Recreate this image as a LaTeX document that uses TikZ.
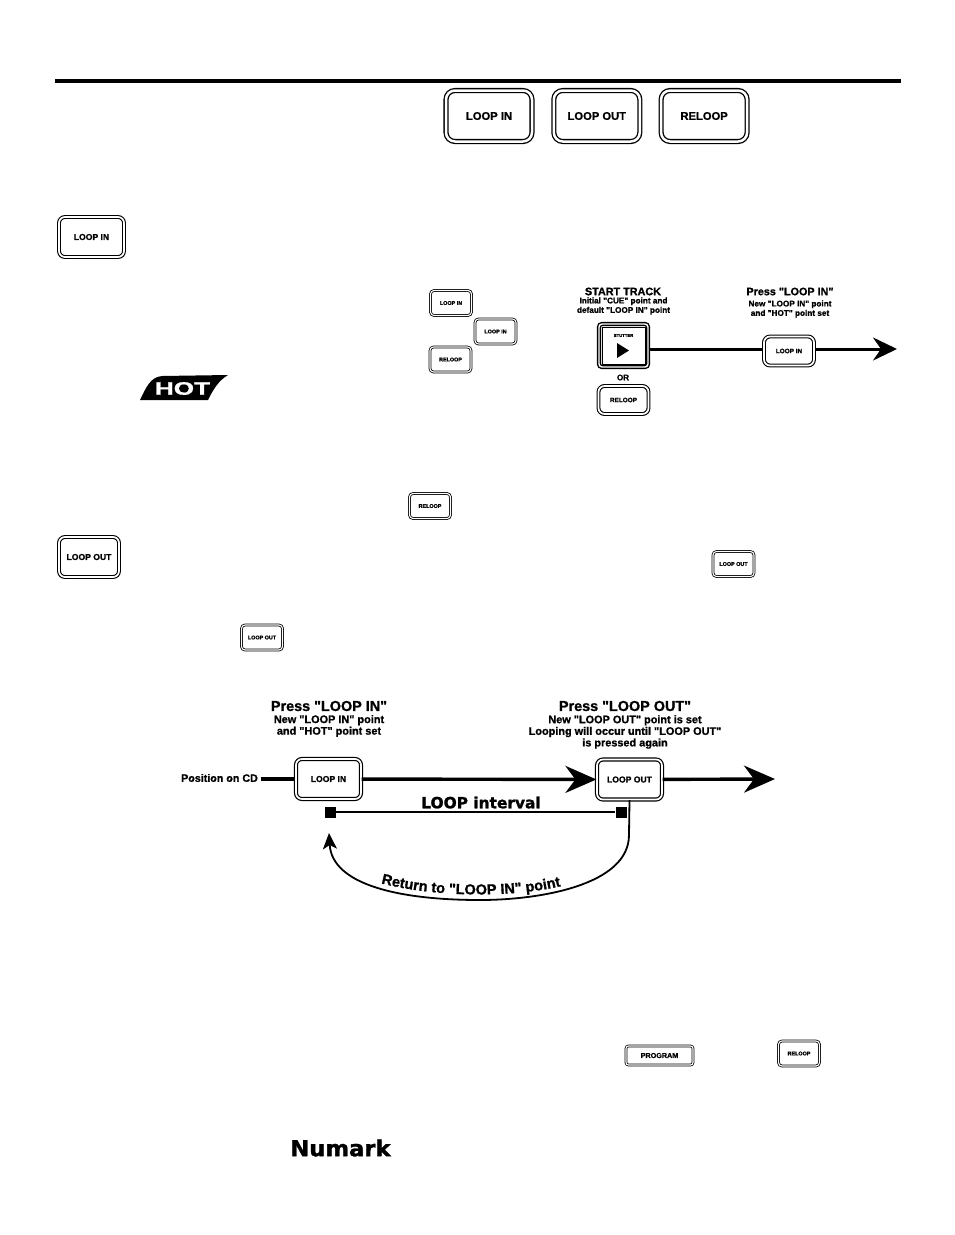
\documentclass[tikz,border=0pt]{standalone}
\usepackage{fontspec}
\setmainfont{Liberation Sans}[Ligatures=TeXOff, BoldFeatures={FakeBold=1.1}]
\newfontfamily\widefont{DejaVu Sans}[Ligatures=TeXOff, BoldFeatures={FakeBold=1.5}]
\usetikzlibrary{arrows.meta, decorations.text, positioning}
\newcommand{\retfont}{\bfseries\fontsize{14.5}{16}\selectfont}
\tikzstyle{btn}=[draw, double, font=\bfseries, inner sep=0pt]
\tikzstyle{bigbtn}=[btn, line width=1.3pt, double distance=2.5pt, rounded corners=9pt, minimum width=86pt, minimum height=51pt, font=\bfseries\fontsize{11.2}{13}\selectfont]
\tikzstyle{midbtn}=[btn, line width=1.1pt, double distance=1.7pt, rounded corners=6pt, minimum width=65pt, minimum height=40pt, font=\bfseries\fontsize{8.6}{10}\selectfont]
\tikzstyle{tinybtn}=[btn, line width=.8pt, double distance=1.1pt, rounded corners=3.5pt, minimum width=41pt, minimum height=25pt, font=\bfseries\fontsize{5.4}{6}\selectfont]
\tikzstyle{head}=[font=\bfseries\fontsize{10.8}{12}\selectfont, inner sep=0pt]
\tikzstyle{subhead}=[align=center, font=\bfseries\fontsize{8.2}{9.4}\selectfont, inner sep=0pt]
\tikzstyle{bighead}=[font=\bfseries\fontsize{14.4}{16}\selectfont, inner sep=0pt]
\tikzstyle{bigsub}=[align=center, font=\bfseries\fontsize{10.9}{11.6}\selectfont, inner sep=0pt]
\tikzstyle{endmark}=[fill=black, minimum size=11pt, inner sep=0pt]
\tikzstyle{track}=[line width=3pt, -{Stealth[length=24pt, width=23pt, inset=8pt]}]
\tikzstyle{bigtrack}=[line width=3.4pt, -{Stealth[length=31pt, width=27pt, inset=10pt]}]

\begin{document}
\begin{tikzpicture}[x=1pt, y=-1pt]
  \useasboundingbox (0,0) rectangle (954,1235);
  \coordinate (ruleL) at (55,81);
  \coordinate (ruleR) at (901,81);
  \draw[line width=4pt] (ruleL) -- (ruleR);

  % top row
  \node[bigbtn] (topin) at (489,116) {LOOP IN};
  \node[bigbtn] (topout) [right=20.5pt of topin] {LOOP OUT};
  \node[bigbtn] (toprel) [right=20pt of topout] {RELOOP};

  % buttons in the text
  \node[midbtn] (sidein) at (91.5,237) {LOOP IN};
  \node[tinybtn] (txtina) at (451,303) {LOOP IN};
  \node[tinybtn] (txtinb) at (495.5,331.5) {LOOP IN};
  \node[tinybtn] (txtrel) at (450.5,359.5) {RELOOP};
  \node[tinybtn] (txtrelb) at (430,506) {RELOOP};
  \node[midbtn, minimum width=60pt] (sideout) at (89,557) {LOOP OUT};
  \node[tinybtn] (txtouta) at (733.5,564) {LOOP OUT};
  \node[tinybtn] (txtoutb) at (262,637.5) {LOOP OUT};
  \node[tinybtn, rounded corners=2.5pt, minimum width=67pt, minimum height=19pt, font=\bfseries\fontsize{7.2}{8}\selectfont] (prog) at (659.5,1055.5) {PROGRAM};
  \node[tinybtn] (botrel) at (799,1053.5) {RELOOP};

  % badge and logo
  \fill (140,400) .. controls (146,388) and (150,377) .. (162,376) -- (228,375)
    .. controls (218,381) and (213,390) .. (208,400) -- cycle;
  \node[inner sep=0pt, text=white, font=\bfseries\fontsize{18}{19}\selectfont, xscale=1.45] (hot) at (182.5,388.5) {HOT};
  \node[inner sep=0pt, font=\widefont\bfseries\fontsize{22}{23}\selectfont, xscale=1.03] (numark) at (340.5,1148) {Numark};

  % start track
  \node[head] (starthd) at (623,291.5) {START TRACK};
  \node[subhead] (startsub) at (623.5,306) {Initial "CUE" point and\\default "LOOP IN" point};
  \node[midbtn, rounded corners=3pt, line width=1.4pt, double distance=1.4pt, minimum width=49pt, minimum height=43pt] (stutter) at (623.5,345.5) {};
  \node[draw, line width=.8pt, minimum width=43pt, minimum height=37pt, inner sep=0pt] (stutin) at (stutter) {};
  \node[inner sep=0pt, font=\bfseries\fontsize{4.2}{5}\selectfont] (stuttxt) at (623.5,335.5) {STUTTER};
  \fill (617,343) -- (629,350.5) -- (617,358) -- cycle;
  \node[inner sep=0pt, font=\bfseries\fontsize{8}{9}\selectfont] (orlbl) at (623,377.5) {OR};
  \node[midbtn, minimum width=50pt, minimum height=28pt, rounded corners=6pt, font=\bfseries\fontsize{6.4}{7}\selectfont] (startrel) at (623.5,400) {RELOOP};
  \node[head] (presshd) at (790,291.5) {Press "LOOP IN"};
  \node[subhead] (presssub) at (790,309) {New "LOOP IN" point\\and "HOT" point set};
  \node[midbtn, minimum width=50pt, minimum height=29pt, rounded corners=6pt, font=\bfseries\fontsize{6.4}{7}\selectfont] (pressin) at (789,351) {LOOP IN};
  \coordinate (trackend) at (897,349);
  \draw[line width=3pt] (stutter.east |- trackend) -- (pressin.west |- trackend);
  \draw[track] (pressin.east |- trackend) -- (trackend);

  % loop diagram
  \node[bighead] (inhd) at (329,706) {Press "LOOP IN"};
  \node[bigsub] (insub) at (329,726) {New "LOOP IN" point\\and "HOT" point set};
  \node[bighead] (outhd) at (625,706) {Press "LOOP OUT"};
  \node[bigsub] (outsub) at (625,732) {New "LOOP OUT" point is set\\Looping will occur until "LOOP OUT"\\is pressed again};
  \node[midbtn, line width=1.2pt] (loopin) at (328.5,779) {LOOP IN};
  \node[midbtn, line width=1.2pt] (loopout) at (629.5,779.5) {LOOP OUT};
  \node[inner sep=0pt, font=\bfseries\fontsize{10.7}{12}\selectfont] (poslbl) at (219.5,778) {Position on CD};
  \coordinate (loopend) at (775,779);
  \draw[line width=3.4pt] (poslbl.east) ++(3,1) -- (loopin);
  \draw[bigtrack] (loopin) -- (loopout);
  \draw[bigtrack] (loopout) -- (loopend);
  \node[endmark] (markin) at (330,812) {};
  \node[endmark] (markout) at (621,812) {};
  \draw[line width=1.3pt] (markin) -- (markout);
  \node[inner sep=0pt, font=\widefont\bfseries\fontsize{15.4}{17}\selectfont] (intlbl) at (481,802.5) {LOOP interval};
  \coordinate (rettip) at (329,833);
  \draw[line width=1.8pt, -{Stealth[length=16pt, width=14pt, inset=4pt]}] (loopout.south) -- (629,835)
    .. controls (629,885) and (540,900) .. (480,900)
    .. controls (400,900) and (332,885) .. (rettip);
  \path[decorate, decoration={text along path, text align=center, text={|\retfont|Return to "LOOP IN" point}}]
    (376,882) .. controls (430,897) and (510,899) .. (566,885);
\end{tikzpicture}
\end{document}
